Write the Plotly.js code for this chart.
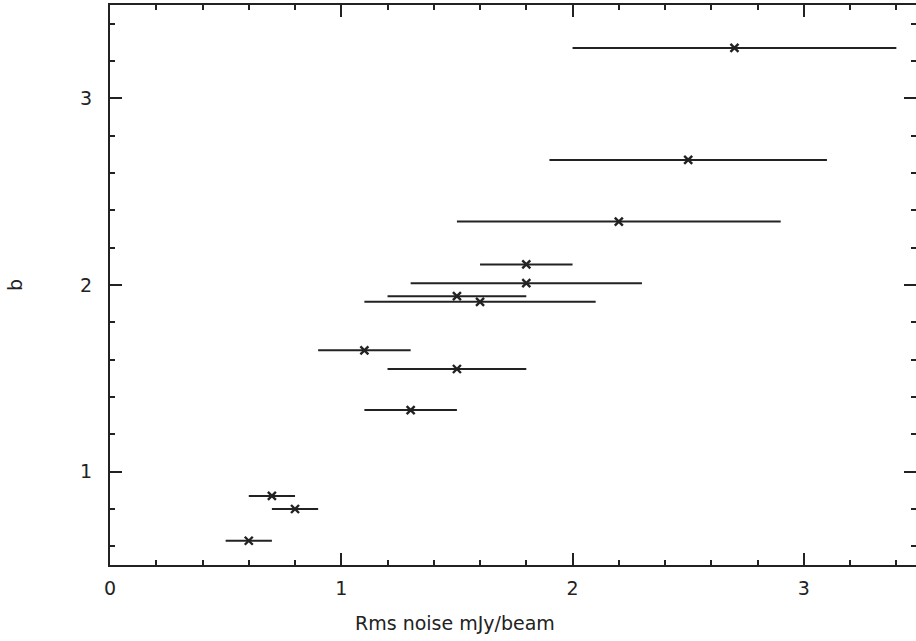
<!DOCTYPE html>
<html>
<head>
<meta charset="utf-8">
<script src="https://cdn.plot.ly/plotly-3.0.1.min.js"></script>
<style>
  html, body { margin: 0; padding: 0; background: #fff; }
  #chart { width: 916px; height: 641px; }
</style>
</head>
<body>
<div id="chart"></div>
<script>
// RMS noise (mJy/beam) with its spread, against fitted b
const rmsNoise = [2.7, 2.5, 2.2, 1.8, 1.8, 1.5, 1.6, 1.1, 1.5, 1.3, 0.7, 0.8, 0.6];
const rmsSpread = [0.7, 0.6, 0.7, 0.2, 0.5, 0.3, 0.5, 0.2, 0.3, 0.2, 0.1, 0.1, 0.1];
const bValues = [3.27, 2.67, 2.34, 2.11, 2.01, 1.94, 1.91, 1.65, 1.55, 1.33, 0.87, 0.80, 0.63];

const xTickVals = [0, 1, 2, 3];
const yTickVals = [1, 2, 3];
const xLabel = 'Rms noise mJy/beam';
const yLabel = 'b';

const ink = '#222';
const font = { family: 'DejaVu Sans, sans-serif', size: 19, color: ink };

const trace = {
  x: rmsNoise,
  y: bValues,
  type: 'scatter',
  mode: 'markers',
  marker: { symbol: 'x-thin', size: 8, color: ink, line: { width: 2.4, color: ink } },
  error_x: { type: 'data', array: rmsSpread, visible: true, width: 0, thickness: 2, color: ink },
  hoverinfo: 'skip'
};

const axisCommon = {
  showgrid: false,
  zeroline: false,
  showline: true,
  linecolor: ink,
  linewidth: 2,
  mirror: 'ticks',
  ticks: 'inside',
  ticklen: 12,
  tickwidth: 2,
  tickcolor: ink,
  tickfont: font,
  minor: { dtick: 0.2, ticks: 'inside', ticklen: 5, tickwidth: 2, tickcolor: ink }
};

const layout = {
  width: 916,
  height: 641,
  paper_bgcolor: '#fff',
  plot_bgcolor: '#fff',
  showlegend: false,
  margin: { l: 110, r: 0, t: 5, b: 76 },
  xaxis: Object.assign({}, axisCommon, {
    range: [0, 3.485],
    tickmode: 'array',
    tickvals: xTickVals,
    ticktext: xTickVals.map(String),
    ticklabelstandoff: 5
  }),
  yaxis: Object.assign({}, axisCommon, {
    range: [0.5, 3.5],
    tickmode: 'array',
    tickvals: yTickVals,
    ticktext: yTickVals.map(String),
    ticklabelstandoff: 12,
    title: { text: yLabel, font: font, standoff: 52 }
  }),
  // x-axis caption, set a little left of the plot centre
  annotations: [{
    text: xLabel,
    xref: 'paper', yref: 'paper',
    x: 0.428, y: 0,
    yshift: -58,
    xanchor: 'center', yanchor: 'middle',
    showarrow: false,
    font: font
  }]
};

Plotly.newPlot('chart', [trace], layout, { displayModeBar: false, staticPlot: true });
</script>
</body>
</html>
